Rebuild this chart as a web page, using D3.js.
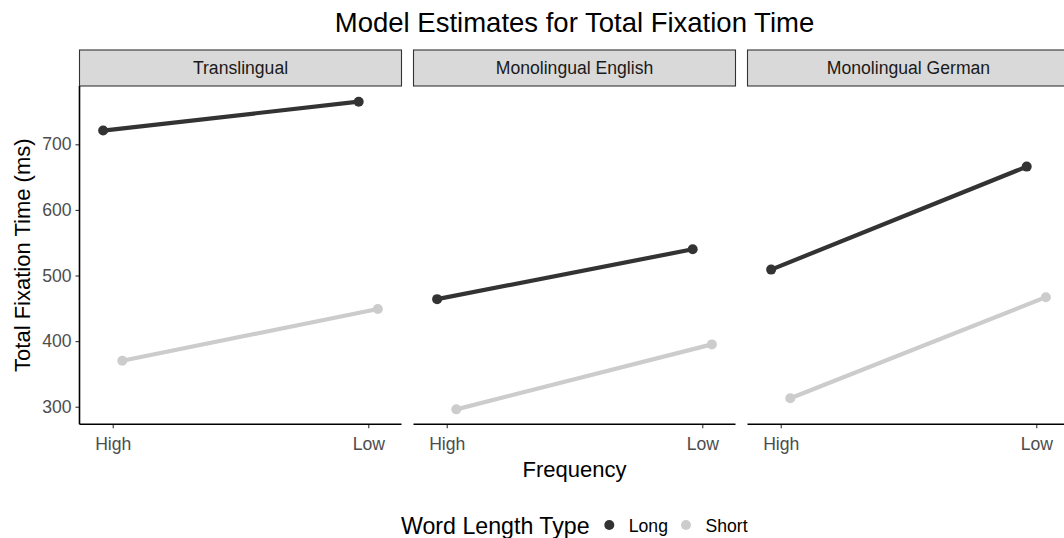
<!DOCTYPE html>
<html>
<head>
<meta charset="utf-8">
<script src="https://cdnjs.cloudflare.com/ajax/libs/d3/7.8.5/d3.min.js"></script>
<style>
  body { margin: 0; background: #fff; overflow: hidden; }
  svg { display: block; font-family: "Liberation Sans", Arial, sans-serif; }
</style>
</head>
<body>
<script>
/*global d3*/

// data
var groups = ["Translingual", "Monolingual English", "Monolingual German"],
    frequency = ["High", "Low"],
    lengthTypes = ["Long", "Short"],
    longValues = [[721, 765], [464, 540], [509, 666]],
    shortValues = [[370, 449], [296, 395], [313, 467]],
    yTicks = [300, 400, 500, 600, 700];

var width = 1064,
    height = 538,
    panelTop = 86,
    panelBottom = 424.3,
    panelWidth = 322,
    panelGap = 12,
    left = 79.5,
    stripHeight = 36,
    dodge = 0.0375;

var colour = d3.scaleOrdinal().domain(lengthTypes).range(["#333333", "#cccccc"]);

var svg = d3.select("body").append("svg")
    .attr("width", width)
    .attr("height", height);

// y scale, shared across panels
var y = d3.scaleLinear()
    .domain([273.2, 788.9])
    .range([panelBottom, panelTop]);

// band position of each facet
var facetX = d3.scaleBand()
    .domain(groups)
    .range([left, left + 3 * panelWidth + 2 * panelGap])
    .paddingInner(panelGap / (panelWidth + panelGap));

// discrete x inside a panel: 1 = High, 2 = Low
var xPos = d3.scaleLinear()
    .domain([0.87, 2.13])
    .range([0, panelWidth]);

var centre = left + (3 * panelWidth + 2 * panelGap) / 2;

// title
svg.append("text")
    .attr("x", centre)
    .attr("y", 32.3)
    .attr("text-anchor", "middle")
    .style("font-size", "27.5px")
    .attr("fill", "#000")
    .text("Model Estimates for Total Fixation Time");

groups.forEach(function (g, gi) {
    var px = facetX(g),
        panel = svg.append("g").attr("transform", "translate(" + px + ",0)");

    /** strip **/
    panel.append("rect")
        .attr("x", 0)
        .attr("y", 50)
        .attr("width", panelWidth)
        .attr("height", stripHeight)
        .attr("fill", "#d9d9d9")
        .attr("stroke", "#333")
        .attr("stroke-width", 1.1);

    panel.append("text")
        .attr("x", panelWidth / 2)
        .attr("y", 50 + stripHeight / 2)
        .attr("dy", "0.35em")
        .attr("text-anchor", "middle")
        .style("font-size", "17.6px")
        .attr("fill", "#1a1a1a")
        .text(g);

    /** x axis **/
    var xAxis = d3.axisBottom(d3.scaleOrdinal().domain(frequency).range([xPos(1), xPos(2)]))
        .tickSize(4)
        .tickPadding(9);

    var ax = panel.append("g")
        .attr("transform", "translate(0," + panelBottom + ")")
        .call(xAxis);
    ax.select(".domain").remove();
    ax.selectAll(".tick line").attr("stroke", "#333").attr("stroke-width", 1.1);
    ax.selectAll(".tick text")
        .attr("fill", "#4d4d4d")
        .style("font-size", "17.6px")
        .style("font-family", "Liberation Sans, Arial, sans-serif");
    panel.append("line")
        .attr("x1", 0).attr("x2", panelWidth)
        .attr("y1", panelBottom).attr("y2", panelBottom)
        .attr("stroke", "#000").attr("stroke-width", 1.6);

    /** y axis only on first panel **/
    if (gi === 0) {
        var yAxis = d3.axisLeft(y).tickValues(yTicks).tickSize(4).tickPadding(4);
        var ay = panel.append("g").call(yAxis);
        ay.select(".domain").remove();
        ay.selectAll(".tick line").attr("stroke", "#333").attr("stroke-width", 1.1);
        ay.selectAll(".tick text")
            .attr("fill", "#4d4d4d")
            .style("font-size", "17.6px")
            .style("font-family", "Liberation Sans, Arial, sans-serif");
        panel.append("line")
            .attr("x1", 0).attr("x2", 0)
            .attr("y1", panelTop).attr("y2", panelBottom)
            .attr("stroke", "#000").attr("stroke-width", 1.6);
    }

    /** lines and points, dodged **/
    var series = [
        { type: "Long", values: longValues[gi], shift: -dodge },
        { type: "Short", values: shortValues[gi], shift: dodge }
    ];

    series.forEach(function (s) {
        var pts = s.values.map(function (v, i) {
            return [xPos(i + 1 + s.shift), y(v)];
        });

        panel.append("path")
            .attr("d", d3.line()(pts))
            .attr("fill", "none")
            .attr("stroke", colour(s.type))
            .attr("stroke-width", 4.2);

        panel.selectAll(null)
            .data(pts)
            .enter()
            .append("circle")
            .attr("cx", function (d) { return d[0]; })
            .attr("cy", function (d) { return d[1]; })
            .attr("r", 5)
            .attr("fill", colour(s.type));
    });
});

// axis titles
svg.append("text")
    .attr("x", centre)
    .attr("y", 476.7)
    .attr("text-anchor", "middle")
    .style("font-size", "22px")
    .attr("fill", "#000")
    .text("Frequency");

svg.append("text")
    .attr("transform", "translate(30," + (panelTop + panelBottom) / 2 + ") rotate(-90)")
    .attr("text-anchor", "middle")
    .style("font-size", "22px")
    .attr("fill", "#000")
    .text("Total Fixation Time (ms)");

// legend
var legend = svg.append("g").attr("transform", "translate(401,0)");

legend.append("text")
    .attr("x", 0)
    .attr("y", 534)
    .style("font-size", "23.2px")
    .attr("fill", "#000")
    .text("Word Length Type");

var keyX = [208.3, 285];

lengthTypes.forEach(function (t, i) {
    legend.append("circle")
        .attr("cx", keyX[i])
        .attr("cy", 525)
        .attr("r", 5)
        .attr("fill", colour(t));
    legend.append("text")
        .attr("x", keyX[i] + 19.5)
        .attr("y", 531.5)
        .style("font-size", "17.6px")
        .attr("fill", "#000")
        .text(t);
});
</script>
</body>
</html>
